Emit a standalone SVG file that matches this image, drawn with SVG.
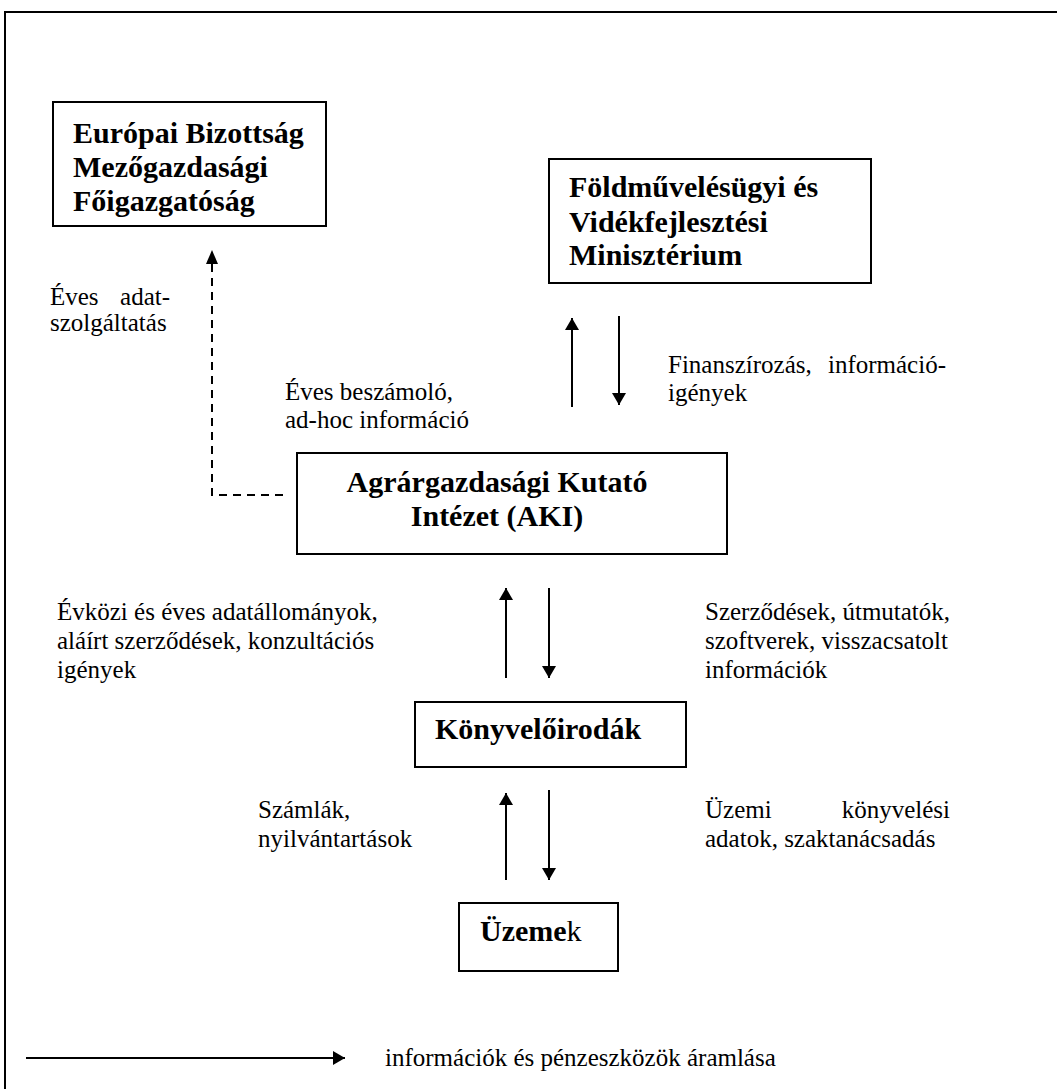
<svg xmlns="http://www.w3.org/2000/svg" width="1057" height="1089" viewBox="0 0 1057 1089">
<style>
.box{fill:#fff;stroke:#000;stroke-width:2}
.b{font-family:"Liberation Serif","Times New Roman",serif;font-weight:bold;font-size:30px;fill:#000}
.r{font-family:"Liberation Serif","Times New Roman",serif;font-size:25px;fill:#000}
.ln{stroke:#000;stroke-width:2;fill:none}
.dash{stroke:#000;stroke-width:2;fill:none;stroke-dasharray:8 6}
</style>
<defs>
<marker id="ah" markerWidth="12" markerHeight="14" refX="12" refY="7" orient="auto" markerUnits="userSpaceOnUse">
<path d="M0,0 L12,7 L0,14 Z" fill="#000"/>
</marker>
</defs>
<rect width="1057" height="1089" fill="#fff"/>
<path d="M5,1089 V12 H1057" stroke="#000" stroke-width="2" fill="none"/>

<g id="node-eu">
<rect class="box" x="53" y="102" width="273" height="124"/>
<text class="b" x="73" y="143">Európai Bizottság</text>
<text class="b" x="73" y="177">Mezőgazdasági</text>
<text class="b" x="73" y="211">Főigazgatóság</text>
</g>
<g id="node-fvm">
<rect class="box" x="549" y="159" width="322" height="124"/>
<text class="b" x="569" y="197">Földművelésügyi és</text>
<text class="b" x="569" y="232">Vidékfejlesztési</text>
<text class="b" x="569" y="265">Minisztérium</text>
</g>
<g id="node-aki">
<rect class="box" x="297" y="453" width="430" height="101"/>
<text class="b" x="497" y="492" text-anchor="middle">Agrárgazdasági Kutató</text>
<text class="b" x="497" y="526" text-anchor="middle">Intézet (AKI)</text>
</g>
<g id="node-konyv">
<rect class="box" x="415" y="702" width="271" height="65"/>
<text class="b" x="435" y="739">Könyvelőirodák</text>
</g>
<g id="node-uzem">
<rect class="box" x="459" y="903" width="159" height="68"/>
<text class="b" x="480" y="941">Üzeme<tspan font-weight="normal">k</tspan></text>
</g>

<g id="connectors">
<path class="dash" d="M283,495 H212 V262"/>
<path d="M206,264 L212,250 L218,264 Z" fill="#000"/>
<line class="ln" x1="572" y1="407" x2="572" y2="318" marker-end="url(#ah)"/>
<line class="ln" x1="619" y1="316" x2="619" y2="405" marker-end="url(#ah)"/>
<line class="ln" x1="506" y1="678" x2="506" y2="588" marker-end="url(#ah)"/>
<line class="ln" x1="549" y1="588" x2="549" y2="678" marker-end="url(#ah)"/>
<line class="ln" x1="506" y1="880" x2="506" y2="793" marker-end="url(#ah)"/>
<line class="ln" x1="549" y1="790" x2="549" y2="880" marker-end="url(#ah)"/>
<line class="ln" x1="26" y1="1058" x2="345" y2="1058" stroke-width="2.5" marker-end="url(#ah)"/>
</g>

<g id="labels">
<text class="r" x="50" y="305">Éves</text>
<text class="r" x="170" y="305" text-anchor="end">adat-</text>
<text class="r" x="50" y="331">szolgáltatás</text>
<text class="r" x="285" y="400">Éves beszámoló,</text>
<text class="r" x="285" y="428">ad-hoc információ</text>
<text class="r" x="668" y="373">Finanszírozás,</text>
<text class="r" x="946" y="373" text-anchor="end">információ-</text>
<text class="r" x="668" y="401">igények</text>
<text class="r" x="57" y="620">Évközi és éves adatállományok,</text>
<text class="r" x="57" y="649">aláírt szerződések, konzultációs</text>
<text class="r" x="57" y="678">igények</text>
<text class="r" x="705" y="620">Szerződések, útmutatók,</text>
<text class="r" x="705" y="649">szoftverek, visszacsatolt</text>
<text class="r" x="705" y="678">információk</text>
<text class="r" x="258" y="818">Számlák,</text>
<text class="r" x="258" y="847">nyilvántartások</text>
<text class="r" x="705" y="818">Üzemi</text>
<text class="r" x="950" y="818" text-anchor="end">könyvelési</text>
<text class="r" x="705" y="847">adatok, szaktanácsadás</text>
<text class="r" x="385" y="1066">információk és pénzeszközök áramlása</text>
</g>
</svg>
